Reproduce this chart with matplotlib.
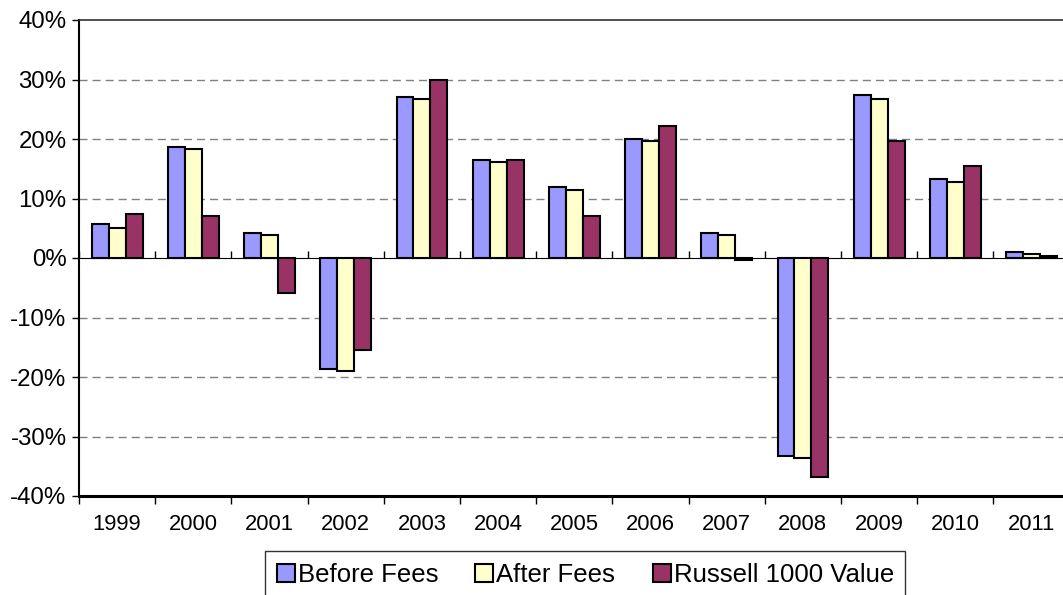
import numpy as np
import matplotlib.pyplot as plt

plt.rcParams['font.family'] = ['Liberation Sans', 'DejaVu Sans']
plt.rcParams['lines.scale_dashes'] = False

years = ['1999', '2000', '2001', '2002', '2003', '2004', '2005', '2006',
         '2007', '2008', '2009', '2010', '2011']
before_fees = [5.7, 18.7, 4.2, -18.7, 27.1, 16.4, 11.9, 20.0, 4.2, -33.3, 27.4, 13.2, 1.0]
after_fees = [5.1, 18.3, 3.9, -19.0, 26.8, 16.1, 11.5, 19.6, 3.9, -33.6, 26.8, 12.8, 0.7]
russell = [7.4, 7.1, -5.9, -15.5, 30.0, 16.4, 7.1, 22.2, -0.3, -36.8, 19.7, 15.5, 0.3]
series_names = ['Before Fees', 'After Fees', 'Russell 1000 Value']
colors = ['#9999FF', '#FFFFCC', '#993366']

fig = plt.figure(figsize=(10.63, 5.95), dpi=100)
ax = fig.add_axes([79 / 1063, 99 / 595, 990.6 / 1063, 476 / 595])

x = np.arange(len(years))
w = 1 / 4.5
for i, (vals, name, c) in enumerate(zip([before_fees, after_fees, russell], series_names, colors)):
    ax.bar(x + (i - 1) * w, vals, width=w, color=c, edgecolor='black',
           linewidth=1.5, label=name, zorder=3)

ax.set_xlim(-0.5, len(years) - 0.5)
ax.set_ylim(-40, 40)

# gridlines
for v in [-30, -20, -10, 10, 20, 30]:
    ax.axhline(v, color='#808080', lw=1.0, linestyle=(0, (5.8, 3.6)), zorder=1)

ax.set_yticks(np.arange(-40, 41, 10))
ax.set_yticklabels([f'{v}%' for v in range(-40, 41, 10)], fontsize=17.3)
ax.tick_params(axis='y', length=5, width=1, pad=4, direction='out')

# bottom: ticks at category boundaries, labels at centres
ax.set_xticks(np.arange(-0.5, len(years), 1))
ax.set_xticklabels([])
ax.set_xticks(x, minor=True)
ax.set_xticklabels(years, minor=True, fontsize=15.8)
ax.tick_params(axis='x', which='major', length=5.5, width=1, direction='out')
ax.tick_params(axis='x', which='minor', length=0, pad=13)

ax.spines['bottom'].set_linewidth(2.2)
ax.spines['left'].set_linewidth(1.5)
ax.spines['top'].set_linewidth(1.2)
ax.spines['top'].set_color('#303030')
ax.spines['right'].set_visible(False)

# category axis at 0%
sec = ax.secondary_xaxis(0.5)
sec.set_xticks(np.arange(-0.5, len(years), 1))
sec.set_xticklabels([])
sec.tick_params(axis='x', length=5, width=1, direction='out')
sec.spines['bottom'].set_linewidth(1.5)

leg = fig.legend(loc='upper left', bbox_to_anchor=(265 / 1063, 1 - 551 / 595),
                 ncol=3, fontsize=18.5, frameon=True, fancybox=False,
                 edgecolor='black', handlelength=0.7, handleheight=0.7,
                 handletextpad=0.12, columnspacing=1.45, borderpad=0.45,
                 borderaxespad=0)
leg.get_frame().set_linewidth(1.0)

plt.savefig('out.png', dpi=100)
